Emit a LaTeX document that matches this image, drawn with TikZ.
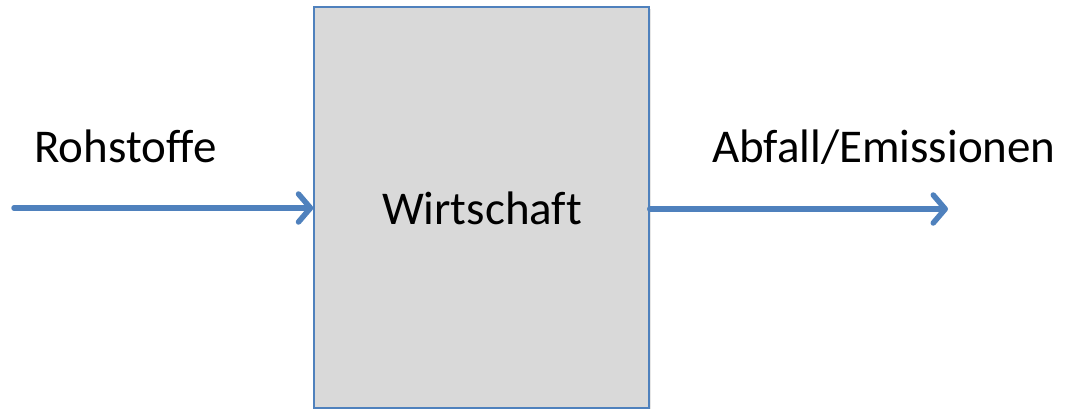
\documentclass[tikz,border=0pt]{standalone}
\usepackage{fontspec}
\setmainfont{Carlito}[Ligatures=NoCommon]
\usetikzlibrary{arrows.meta,shadows}
\definecolor{flowblue}{HTML}{4F81BD}
\definecolor{boxgray}{HTML}{D9D9D9}
\tikzset{
  flow/.style={draw=flowblue, line width=5.5pt, line cap=round,
    -{Straight Barb[length=12pt,width=28pt,line cap=round,line join=round]},
    drop shadow={shadow xshift=1pt,shadow yshift=-2pt,opacity=0.25}},
  sector/.style={draw=flowblue, fill=boxgray, line width=1.5pt,
    minimum width=335pt, minimum height=401pt, inner sep=0pt,
    drop shadow={shadow xshift=2pt,shadow yshift=-2pt,opacity=0.2}},
  lbl/.style={font=\fontsize{47}{56}\selectfont, inner sep=0pt, text=black}
}
\begin{document}
\begin{tikzpicture}[x=1pt,y=-1pt]
  \useasboundingbox (0,0) rectangle (1066,409);
  \node[sector] (box) at (481.5,207.5) {};
  \node[lbl, anchor=base] (wi) at (482,224) {Wirtschaft};
  \node[lbl, anchor=base west] (roh) at (34,163) {Rohstoffe};
  \node[lbl, anchor=base west] (abf) at (712,163) {Abfall/Emissionen};
  \coordinate (src) at (14,208);
  \coordinate (dst) at (948,209);
  \draw[flow] (src) -- (box.west |- src);
  \draw[flow] (box.east |- dst) -- (dst);
\end{tikzpicture}
\end{document}
